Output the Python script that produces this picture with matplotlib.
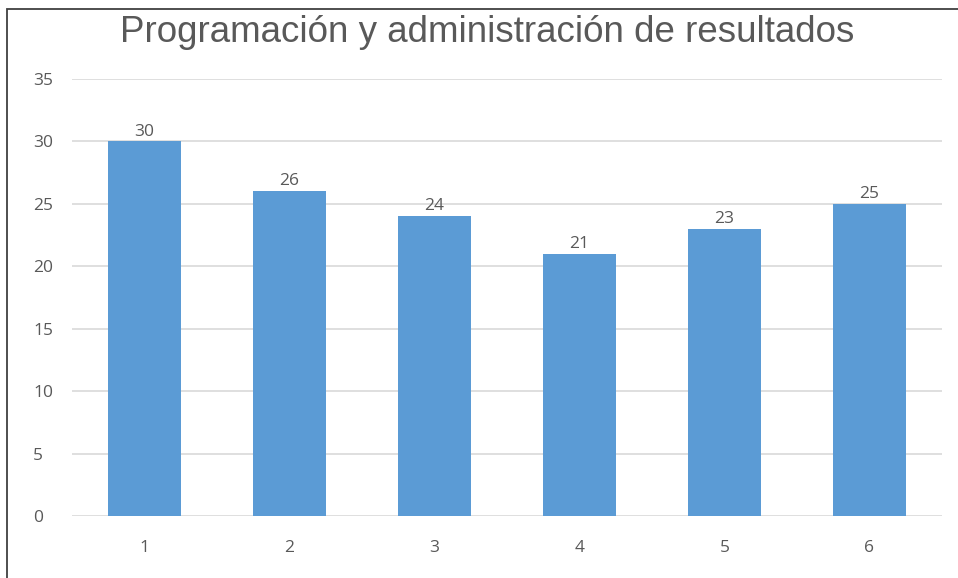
import matplotlib.pyplot as plt
from matplotlib.patches import Rectangle

# Data
categories = ["1", "2", "3", "4", "5", "6"]
values = [30, 26, 24, 21, 23, 25]
yticks = [0, 5, 10, 15, 20, 25, 30, 35]

bar_color = "#5B9BD5"
text_color = "#595959"
grid_color = "#D9D9D9"

fig = plt.figure(figsize=(9.58, 5.78), dpi=100)
ax = fig.add_axes([72 / 958, 1 - 516 / 578, (942 - 72) / 958, (516 - 79) / 578])

x = list(range(1, len(categories) + 1))
bars = ax.bar(x, values, width=0.5, color=bar_color, zorder=3)

for xi, v in zip(x, values):
    ax.text(xi, v + 0.15, str(v), ha="center", va="bottom",
            fontsize=12.5, color=text_color, family="Open Sans")

ax.set_xlim(0.5, 6.5)
ax.set_ylim(0, 35)
ax.set_xticks(x)
ax.set_xticklabels(categories)
ax.set_yticks(yticks)
ax.tick_params(axis="both", length=0, labelsize=12.5, labelcolor=text_color)
ax.tick_params(axis="x", pad=17)
ax.tick_params(axis="y", pad=28)
for lab in ax.get_xticklabels() + ax.get_yticklabels():
    lab.set_family("Open Sans")
for lab in ax.get_yticklabels():
    lab.set_horizontalalignment("left")

ax.grid(axis="y", color=grid_color, linewidth=1.2, zorder=0)
for s in ax.spines.values():
    s.set_visible(False)

fig.text(487 / 958, 1 - 32 / 578, "Programación y administración de resultados",
         ha="center", va="center", fontsize=26.5, color=text_color,
         family="Liberation Sans")

# outer frame, only top and left edges visible in the picture
fig.patches.append(Rectangle((7 / 958, -0.1), 1.2, 1 - 9 / 578 + 0.1,
                             transform=fig.transFigure, fill=False,
                             edgecolor="#404040", linewidth=1.3))

fig.savefig("out.png", dpi=100)
